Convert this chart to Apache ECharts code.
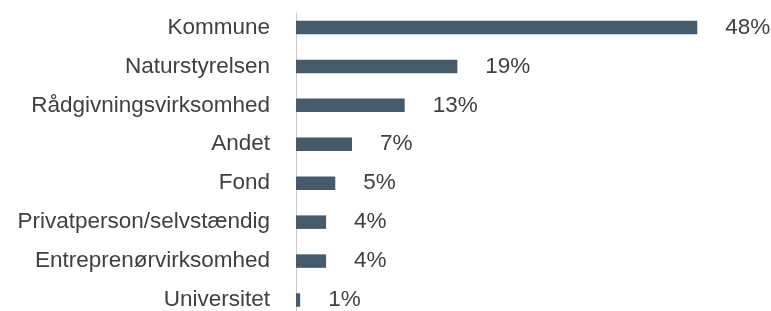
<!DOCTYPE html>
<html><head><meta charset="utf-8">
<script src="https://cdn.jsdelivr.net/npm/echarts@6/dist/echarts.min.js"></script>
<style>html,body{margin:0;padding:0;background:#fff}#c{width:771px;height:311px}</style>
</head><body><div id="c"></div>
<script>
const categories = ["Kommune","Naturstyrelsen","Rådgivningsvirksomhed","Andet","Fond","Privatperson/selvstændig","Entreprenørvirksomhed","Universitet"];
const values = [48, 19.3, 13, 6.7, 4.7, 3.6, 3.6, 0.5];
const valueLabels = ["48%","19%","13%","7%","5%","4%","4%","1%"];

const chart = echarts.init(document.getElementById('c'), null, {renderer:'canvas'});
const font = '"Liberation Sans", Arial, sans-serif';
chart.setOption({
  animation:false,
  grid:[
    {left:296, right:57, top:8, height:311.5, containLabel:false, outerBoundsMode:'none'},
    {left:296, right:57, top:13, bottom:0, containLabel:false, outerBoundsMode:'none'}
  ],
  xAxis:[
    {type:'value', gridIndex:0, min:0, max:50, show:false},
    {type:'value', gridIndex:1, min:0, max:50, show:false}
  ],
  yAxis:[
    {type:'category', gridIndex:0, data:categories, inverse:true,
     axisLine:{show:false}, axisTick:{show:false}, splitLine:{show:false},
     axisLabel:{fontFamily:font, fontSize:22.5, color:'#404040', margin:26}},
    {type:'category', gridIndex:1, data:categories, inverse:true,
     axisLine:{show:true, lineStyle:{color:'#c8c8c8', width:1}},
     axisTick:{show:false}, axisLabel:{show:false}, splitLine:{show:false}}
  ],
  series:[{
    type:'bar', xAxisIndex:0, yAxisIndex:0, data:values, barWidth:13.5,
    itemStyle:{color:'#465a69'},
    label:{show:true, position:'right', distance:28, fontFamily:font, fontSize:22.5, color:'#404040',
      formatter:p=>valueLabels[p.dataIndex]}
  }]
});
</script></body></html>
